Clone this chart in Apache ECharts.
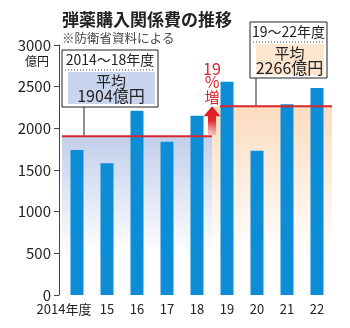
<!DOCTYPE html>
<html><head><meta charset="utf-8">
<script src="https://cdn.jsdelivr.net/npm/echarts@6/dist/echarts.min.js"></script>
<style>html,body{margin:0;padding:0;background:#fff}#c{width:350px;height:328px}</style>
</head><body><div id="c"></div>
<script>
const categories = ['2014年度', '15', '16', '17', '18', '19', '20', '21', '22'];
const values = [1740, 1580, 2210, 1840, 2150, 2560, 1730, 2290, 2485];
const periodLabels = ['2014〜18年度', '19〜22年度'];
const periodAverages = [1904, 2266];
const periodRanges = [['2014年度', '18'], ['19', '22']];
const avgLabel = '平均';
const increaseLabel = ['19', '%', '増'];
const titleText = '弾薬購入関係費の推移';
const sourceText = '※防衛省資料による';
const unitText = '億円';

const FONT = '"Noto Sans CJK JP", "Noto Sans", sans-serif';
const chart = echarts.init(document.getElementById('c'), null, {renderer: 'canvas'});

chart.setOption({
  animation: false,
  backgroundColor: '#fff',
  grid: {left: 62, right: 18, top: 45, bottom: 33, containLabel: false},
  xAxis: {
    type: 'category', data: categories,
    axisLine: {show: false}, axisTick: {show: false},
    axisLabel: {
      color: '#222', fontSize: 13, fontFamily: FONT, margin: 8, interval: 0,
      formatter: function (v, i) { return i === 0 ? '{a|' + v + '}' : v; },
      rich: {a: {fontSize: 13, fontFamily: FONT, color: '#222', padding: [0, 26, 0, 0]}}
    }
  },
  yAxis: {
    type: 'value', min: 0, max: 3000, interval: 500, offset: 3,
    axisLine: {show: true, lineStyle: {color: '#444', width: 1}},
    axisTick: {show: true, length: 5, lineStyle: {color: '#444'}},
    splitLine: {show: false},
    axisLabel: {color: '#222', fontSize: 15, fontFamily: FONT, margin: 8, formatter: function (v) { return String(v); }}
  },
  series: [{
    type: 'bar', data: values, barWidth: 13, z: 5,
    itemStyle: {color: '#0c8dd6'}
  }]
});

function px(cat, val) { return chart.convertToPixel({xAxisIndex: 0, yAxisIndex: 0}, [cat, val]); }
const band = px(categories[1], 0)[0] - px(categories[0], 0)[0];
const gridRight = px(categories[categories.length - 1], 0)[0] + band / 2;
const gridLeft = px(categories[0], 0)[0] - band / 2;
const yZero = px(categories[0], 0)[1];

const g = [];
const r0 = periodRanges[0], r1 = periodRanges[1];
const bx0 = px(r0[0], 0)[0] - band / 2, bx1 = px(r0[1], 0)[0] + band / 2;
const by = px(r0[0], periodAverages[0])[1];
g.push({type: 'rect', z: 1, shape: {x: bx0, y: by, width: bx1 - bx0, height: yZero - by},
  style: {fill: new echarts.graphic.LinearGradient(0, 0, 0, 1, [
    {offset: 0, color: '#c2cfeb'}, {offset: 0.75, color: 'rgba(255,255,255,1)'}, {offset: 1, color: '#fff'}])}});
const ox0 = px(r1[0], 0)[0] - band / 2, ox1 = gridRight;
const oy = px(r1[0], periodAverages[1])[1];
g.push({type: 'rect', z: 1, shape: {x: ox0, y: oy, width: ox1 - ox0, height: yZero - oy},
  style: {fill: new echarts.graphic.LinearGradient(0, 0, 0, 1, [
    {offset: 0, color: '#fcdcc0'}, {offset: 0.8, color: 'rgba(255,255,255,1)'}, {offset: 1, color: '#fff'}])}});
g.push({type: 'line', z: 10, shape: {x1: gridLeft, y1: by, x2: bx1, y2: by}, style: {stroke: '#d8262d', lineWidth: 2}});
g.push({type: 'line', z: 10, shape: {x1: ox0 + 8, y1: oy, x2: gridRight, y2: oy}, style: {stroke: '#d8262d', lineWidth: 2}});

function box(x, y, w, h, header, avg, fill, connX, connY) {
  g.push({type: 'rect', z: 20, shape: {x: x, y: y, width: w, height: h}, style: {fill: '#fff', stroke: '#222', lineWidth: 1}});
  g.push({type: 'text', z: 21, style: {text: header, x: x + w / 2, y: y + 10, align: 'center', verticalAlign: 'middle', font: '14px ' + FONT, fill: '#222'}});
  g.push({type: 'line', z: 21, shape: {x1: x + 3, y1: y + 20, x2: x + w - 3, y2: y + 20}, style: {stroke: '#444', lineWidth: 1, lineDash: [1, 2]}});
  g.push({type: 'rect', z: 21, shape: {x: x + 6, y: y + 22, width: w - 9, height: h - 25}, style: {fill: fill}});
  g.push({type: 'text', z: 22, style: {text: avg[0], x: x + w / 2 + 1, y: y + 31, align: 'center', verticalAlign: 'middle', font: '15px ' + FONT, fill: '#222'}});
  g.push({type: 'text', z: 22, style: {text: avg[1], x: x + w / 2 + 1, y: y + 46, align: 'center', verticalAlign: 'middle', font: '16px ' + FONT, fill: '#222'}});
  g.push({type: 'line', z: 20, shape: {x1: connX, y1: y + h, x2: connX, y2: connY - 1}, style: {stroke: '#222', lineWidth: 1}});
}
box(62, 50, 96, 57, periodLabels[0], [avgLabel, periodAverages[0] + unitText], '#c9d5ee', px(r0[0], 0)[0] + 7, by);
box(250, 22, 77, 56, periodLabels[1], [avgLabel, periodAverages[1] + unitText], '#fde5cf', 256, oy);

const ax = (bx1 + ox0) / 2;
g.push({type: 'polygon', z: 15, shape: {points: [[ax, oy], [ax + 8.5, oy + 10], [ax + 4, oy + 10], [ax + 4, by - 1], [ax - 4, by - 1], [ax - 4, oy + 10], [ax - 8.5, oy + 10]]},
  style: {fill: new echarts.graphic.LinearGradient(0, 0, 0, 1, [
    {offset: 0, color: '#e0141c'}, {offset: 0.5, color: '#e3262d'}, {offset: 1, color: 'rgba(240,150,150,0.5)'}])}});
const iy = [69, 82, 97];
increaseLabel.forEach(function (t, i) {
  g.push({type: 'text', z: 15, style: {text: t, x: ax, y: iy[i], align: 'center', verticalAlign: 'middle', font: (i === 2 ? '15px ' : '16px ') + FONT, fill: '#d6262e'}});
});

g.push({type: 'text', z: 30, style: {text: titleText, x: 62, y: 20, verticalAlign: 'middle', font: 'bold 17px ' + FONT, fill: '#222'}});
g.push({type: 'text', z: 30, style: {text: sourceText, x: 62, y: 38, verticalAlign: 'middle', font: '12.5px ' + FONT, fill: '#444'}});
g.push({type: 'text', z: 30, style: {text: unitText, x: 49, y: 61, align: 'right', verticalAlign: 'middle', font: '12px ' + FONT, fill: '#222'}});

chart.setOption({graphic: g});
</script></body></html>
